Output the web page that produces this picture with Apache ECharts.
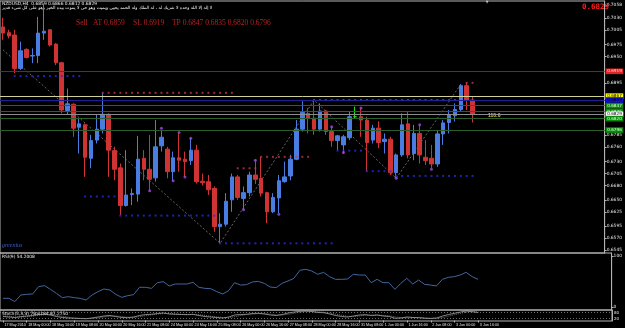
<!DOCTYPE html>
<html>
<head>
<meta charset="utf-8">
<style>
  html, body { margin: 0; padding: 0; background: #000; }
  #chart { width: 625px; height: 328px; }
</style>
<script src="https://cdn.jsdelivr.net/npm/echarts@6/dist/echarts.min.js"></script>
</head>
<body>
<div id="chart"></div>
<script>
// NZDUSD H4, 17 May 08:00 .. 3 Jun 16:00 (2010)
let opens = [
  0.7012, 0.7000, 0.6995, 0.6925, 0.6965, 0.6951, 0.6952, 0.6999, 0.7006, 0.6976,
  0.6937, 0.6837, 0.6850, 0.6802, 0.6807, 0.6737, 0.6775, 0.6798, 0.6829, 0.6753,
  0.6717, 0.6638, 0.6661, 0.6662, 0.6737, 0.6714, 0.6696, 0.6763, 0.6756, 0.6709,
  0.6738, 0.6735, 0.6732, 0.6754, 0.6689, 0.6688, 0.6674, 0.6594, 0.6599, 0.6650,
  0.6698, 0.6653, 0.6665, 0.6702, 0.6695, 0.6665, 0.6625, 0.6654, 0.6688, 0.6700,
  0.6735, 0.6798, 0.6831, 0.6821, 0.6798, 0.6836, 0.6793, 0.6774, 0.6765, 0.6780,
  0.6824, 0.6824, 0.6817, 0.6775, 0.6800, 0.6772, 0.6777, 0.6707, 0.6744, 0.6809,
  0.6747, 0.6789, 0.6739, 0.6737, 0.6725, 0.6788, 0.6812, 0.6826, 0.6839, 0.6889,
  0.6859
];
let highs = [
  0.7031, 0.7006, 0.7006, 0.6981, 0.6967, 0.6967, 0.7033, 0.7060, 0.7007, 0.6978,
  0.6939, 0.6883, 0.6852, 0.6821, 0.6810, 0.6786, 0.6828, 0.6873, 0.6831, 0.6761,
  0.6726, 0.6754, 0.6674, 0.6784, 0.6754, 0.6786, 0.6817, 0.6796, 0.6761, 0.6751,
  0.6789, 0.6751, 0.6779, 0.6765, 0.6705, 0.6702, 0.6678, 0.6622, 0.6664, 0.6705,
  0.6702, 0.6678, 0.6709, 0.6733, 0.6740, 0.6667, 0.6664, 0.6702, 0.6730, 0.6744,
  0.6817, 0.6856, 0.6842, 0.6859, 0.6852, 0.6838, 0.6803, 0.6786, 0.6786, 0.6835,
  0.6845, 0.6842, 0.6824, 0.6807, 0.6814, 0.6789, 0.6782, 0.6747, 0.6831, 0.6835,
  0.6807, 0.6807, 0.6775, 0.6765, 0.6796, 0.6817, 0.6838, 0.6852, 0.6892, 0.6895,
  0.6866
];
let lows = [
  0.6985, 0.6988, 0.6915, 0.6922, 0.6946, 0.6936, 0.6936, 0.6985, 0.6971, 0.6932,
  0.6831, 0.6828, 0.6782, 0.6747, 0.6698, 0.6716, 0.6768, 0.6789, 0.6698, 0.6691,
  0.6618, 0.6636, 0.6639, 0.6646, 0.6691, 0.6669, 0.6688, 0.6751, 0.6695, 0.6691,
  0.6709, 0.6698, 0.6723, 0.6684, 0.6680, 0.6660, 0.6583, 0.6559, 0.6594, 0.6625,
  0.6650, 0.6629, 0.6657, 0.6683, 0.6657, 0.6601, 0.6622, 0.6622, 0.6686, 0.6691,
  0.6733, 0.6793, 0.6789, 0.6786, 0.6793, 0.6786, 0.6761, 0.6754, 0.6747, 0.6775,
  0.6821, 0.6782, 0.6709, 0.6768, 0.6758, 0.6747, 0.6702, 0.6695, 0.6740, 0.6737,
  0.6733, 0.6726, 0.6723, 0.6716, 0.6719, 0.6765, 0.6789, 0.6814, 0.6835, 0.6838,
  0.6812
];
let closes = [
  0.6999, 0.6993, 0.6925, 0.6962, 0.6948, 0.6952, 0.6999, 0.7003, 0.6974, 0.6937,
  0.6838, 0.6851, 0.6800, 0.6809, 0.6739, 0.6774, 0.6798, 0.6829, 0.6754, 0.6714,
  0.6638, 0.6660, 0.6663, 0.6735, 0.6714, 0.6693, 0.6761, 0.6781, 0.6709, 0.6738,
  0.6733, 0.6730, 0.6754, 0.6688, 0.6686, 0.6671, 0.6594, 0.6599, 0.6647, 0.6698,
  0.6655, 0.6665, 0.6702, 0.6693, 0.6664, 0.6625, 0.6655, 0.6690, 0.6698, 0.6735,
  0.6798, 0.6833, 0.6821, 0.6798, 0.6836, 0.6793, 0.6774, 0.6784, 0.6782, 0.6824,
  0.6824, 0.6817, 0.6770, 0.6800, 0.6770, 0.6777, 0.6707, 0.6744, 0.6807, 0.6744,
  0.6789, 0.6744, 0.6732, 0.6725, 0.6788, 0.6811, 0.6828, 0.6839, 0.6889, 0.6859,
  0.6829
];

let rsi = [
  17.0, 17.0, 10.5, 23.5, 24.8, 25.5, 39.9, 41.9, 34.6, 26.8,
  18.3, 20.3, 18.3, 17.0, 13.7, 23.5, 30.1, 35.3, 33.3, 24.8,
  18.9, 22.2, 24.2, 38.6, 38.6, 36.6, 47.7, 49.7, 41.2, 45.1,
  45.1, 45.1, 48.4, 38.6, 36.6, 35.9, 30.1, 25.5, 32.0, 47.7,
  43.1, 43.8, 49.0, 50.3, 46.4, 39.2, 37.9, 46.4, 51.0, 56.2,
  72.0, 73.9, 70.6, 64.1, 68.0, 59.5, 54.2, 54.2, 54.9, 64.1,
  62.7, 62.7, 47.7, 54.2, 47.7, 47.7, 34.6, 46.4, 56.2, 45.1,
  52.9, 44.4, 43.1, 41.2, 54.2, 58.2, 59.5, 62.7, 68.0, 59.5,
  54.2008
];
let stochK = [
  40, 35, 30, 38, 45, 50, 60, 62, 55, 40,
  30, 25, 22, 20, 18, 25, 35, 45, 50, 40,
  30, 28, 35, 50, 60, 62, 70, 75, 65, 62,
  60, 58, 62, 50, 40, 35, 30, 25, 35, 55,
  60, 62, 70, 72, 65, 55, 50, 60, 75, 85,
  92, 95, 90, 80, 78, 65, 50, 40, 35, 45,
  55, 58, 50, 55, 45, 40, 22, 25, 35, 30,
  28, 22, 20, 25, 45, 60, 72, 85, 95, 88,
  78.6184
];
let stochD = [
  45, 42, 35, 34, 38, 44, 52, 57, 59, 52,
  42, 32, 26, 22, 20, 21, 26, 35, 43, 45,
  40, 33, 31, 38, 48, 57, 64, 69, 70, 67,
  62, 60, 60, 57, 51, 42, 35, 30, 30, 38,
  50, 59, 64, 68, 69, 64, 57, 55, 62, 73,
  84, 91, 92, 88, 83, 74, 64, 52, 42, 40,
  45, 53, 54, 54, 50, 47, 36, 29, 27, 30,
  31, 27, 23, 22, 30, 43, 59, 72, 84, 89,
  87.2750
];

// one label every 4 bars, starting with bar 0
let timeLabels = [
  '17 May 2010', '18 May 00:00', '18 May 16:00', '19 May 08:00', '20 May 00:00',
  '20 May 16:00', '21 May 08:00', '24 May 00:00', '24 May 16:00', '25 May 08:00',
  '26 May 00:00', '26 May 16:00', '27 May 08:00', '28 May 00:00', '28 May 16:00',
  '31 May 08:00', '1 Jun 00:00', '1 Jun 16:00', '2 Jun 08:00', '3 Jun 00:00',
  '3 Jun 16:00'
];
let priceTicks = [0.7058, 0.7030, 0.7005, 0.6975, 0.6950, 0.6895, 0.6785, 0.6760, 0.6730,
  0.6705, 0.6680, 0.6650, 0.6625, 0.6595, 0.6570, 0.6545];

// trade levels: SL, entry zone, AT, TP1, TP2, bid, TP3, TP4
let levelPrices = [0.6919, 0.6867, 0.6859, 0.6847, 0.6835, 0.6829, 0.6820, 0.6796];
let levelLine = ['#8e1a1a', '#cfcf96', '#1f1f96', '#2c5e2c', '#2c5e2c', '#8c8c8c', '#2c5e2c', '#2c5e2c'];
let levelBox = ['#e02424', '#ffff00', '#1010d0', '#0a8a0a', '#0a8a0a', '#ffffff', '#0a8a0a', '#0a8a0a'];
let levelText = ['#ffd0d0', '#000000', '#000000', '#e0ffe0', '#e0ffe0', '#000000', '#e0ffe0', '#e0ffe0'];

// dotted support / resistance rows: [first bar, last bar, price]
let blueRows = [[2, 13, 0.6909], [14, 19, 0.6657], [20, 36, 0.6617], [37, 56, 0.6559],
  [57, 61, 0.6753], [62, 66, 0.6710], [67, 80, 0.6700]];
let redRows = [[17, 39, 0.6874], [40, 43, 0.6716], [44, 52, 0.6740], [53, 77, 0.6859], [79, 80, 0.6895]];
let fractals = [[25, 0.6669], [27, 0.6800], [29, 0.6690], [30, 0.6791], [31, 0.6698], [32, 0.6779],
  [41, 0.6629], [43, 0.6733], [47, 0.6620], [56, 0.6803], [58, 0.6749], [61, 0.6842],
  [67, 0.6695], [71, 0.6807], [73, 0.6714]];
let zigzag = [[0, 0.6964], [37, 0.6559], [53, 0.6859], [67, 0.6695], [78, 0.6892]];

let nSlots = 103; // 81 bars + empty space on the right (chart shift)
let cats = [];
for (let i = 0; i < nSlots; i++) cats.push(String(i));

let candles = [];
for (let i = 0; i < opens.length; i++) {
  candles.push([opens[i], closes[i], lows[i], highs[i]]);
}
function expandRows(rows) {
  let pts = [];
  rows.forEach(function (r) {
    for (let i = r[0]; i <= r[1]; i++) pts.push([i, r[2]]);
  });
  return pts;
}
let last = opens.length - 1;
let f4 = function (v) { return v.toFixed(4); };
let showTime = function (i) { return i % 4 === 0 && i <= last; };

let small = '"DejaVu Sans", sans-serif';
let axisCol = '#b4b4b4';

let chart = echarts.init(document.getElementById('chart'));
let option = {
  animation: false,
  backgroundColor: '#000000',
  grid: [
    { left: -2, right: 13, top: 1, height: 252, show: true, borderColor: axisCol, borderWidth: 1 },
    { left: -2, right: 13, top: 253, height: 57, show: true, borderColor: axisCol, borderWidth: 1 },
    { left: -2, right: 13, top: 310, height: 11, show: true, borderColor: axisCol, borderWidth: 1 }
  ],
  xAxis: [
    { type: 'category', gridIndex: 0, data: cats, show: false },
    { type: 'category', gridIndex: 1, data: cats, show: false },
    {
      type: 'category',
      gridIndex: 2,
      data: cats,
      axisLine: { show: false },
      axisTick: { show: true, alignWithLabel: true, interval: showTime, length: 2, lineStyle: { color: axisCol } },
      axisLabel: {
        interval: showTime,
        showMinLabel: true,
        formatter: function (v, i) { return timeLabels[i / 4]; },
        align: 'left',
        color: '#e6e6e6',
        fontSize: 3.7,
        fontFamily: '"Liberation Sans", sans-serif',
        margin: 1.5,
        padding: [0, 0, 0, 1.5]
      }
    }
  ],
  yAxis: [
    {
      type: 'value', gridIndex: 0, position: 'right', min: 0.65387, max: 0.70662,
      splitLine: { show: false },
      axisLine: { show: true, lineStyle: { color: axisCol } },
      axisTick: { show: true, customValues: priceTicks, length: 2, lineStyle: { color: axisCol } },
      axisLabel: { customValues: priceTicks, formatter: f4, color: '#e6e6e6', fontSize: 4.4, fontFamily: small, margin: 2 }
    },
    {
      type: 'value', gridIndex: 1, position: 'right', min: -5.9, max: 105.9,
      splitLine: { show: false },
      axisLine: { show: true, lineStyle: { color: axisCol } },
      axisTick: { show: true, customValues: [0, 100], length: 2, lineStyle: { color: axisCol } },
      axisLabel: { customValues: [0, 100], color: '#e6e6e6', fontSize: 4.4, fontFamily: small, margin: 2 }
    },
    {
      type: 'value', gridIndex: 2, position: 'right', min: -5, max: 105,
      splitLine: { show: false },
      axisLine: { show: true, lineStyle: { color: axisCol } },
      axisTick: { show: false },
      axisLabel: { customValues: [20, 80], color: '#e6e6e6', fontSize: 4, fontFamily: small, margin: 2 }
    }
  ],
  series: [
    {
      name: 'zigzag',
      type: 'line',
      data: zigzag,
      showSymbol: false,
      z: 2,
      itemStyle: { color: '#808080' },
      lineStyle: { color: '#808080', width: 0.8, type: [2, 2] }
    },
    {
      name: 'NZDUSD',
      type: 'candlestick',
      data: candles,
      barWidth: 4,
      z: 3,
      itemStyle: {
        color: '#4a7de2', color0: '#cf3333',
        borderColor: '#4a7de2', borderColor0: '#cf3333',
        borderColorDoji: '#20e020', borderWidth: 1
      },
      markLine: {
        silent: true,
        symbol: ['none', 'none'],
        animation: false,
        precision: 4,
        data: levelPrices.map(function (p, i) {
          return {
            name: 'L' + i,
            yAxis: p,
            lineStyle: { color: levelLine[i], type: 'solid', width: 1 },
            label: {
              show: true, position: 'end', distance: 1,
              formatter: f4(p),
              backgroundColor: levelBox[i], color: levelText[i],
              fontSize: 4.2, fontFamily: small, padding: [0.5, 1.5], lineHeight: 4.6
            }
          };
        })
      }
    },
    {
      name: 'support dots',
      type: 'scatter',
      data: expandRows(blueRows),
      symbol: 'rect', symbolSize: 2, z: 4,
      itemStyle: { color: '#2b2bde' }
    },
    {
      name: 'resistance dots',
      type: 'scatter',
      data: expandRows(redRows),
      symbol: 'rect', symbolSize: 2, z: 4,
      itemStyle: { color: '#c8324e' }
    },
    {
      name: 'fractals',
      type: 'scatter',
      data: fractals,
      symbol: 'circle', symbolSize: 3, z: 4,
      itemStyle: { color: '#a446e6' }
    },
    {
      name: 'RSI',
      type: 'line',
      xAxisIndex: 1, yAxisIndex: 1,
      data: rsi,
      showSymbol: false,
      lineStyle: { color: '#4066a0', width: 1 }
    },
    {
      name: 'Stoch main',
      type: 'line',
      xAxisIndex: 2, yAxisIndex: 2,
      data: stochK,
      showSymbol: false,
      lineStyle: { color: '#bdbdbd', width: 0.7 },
      markLine: {
        silent: true, symbol: ['none', 'none'], label: { show: false },
        lineStyle: { color: '#8a8a8a', type: [1, 2], width: 0.8 },
        data: [{ yAxis: 20 }, { yAxis: 80 }]
      }
    },
    {
      name: 'Stoch signal',
      type: 'line',
      xAxisIndex: 2, yAxisIndex: 2,
      data: stochD,
      showSymbol: false,
      lineStyle: { color: '#9a9a9a', width: 0.7, type: [1, 1] }
    }
  ],
  graphic: [
    {
      type: 'text', x: 2, y: 1.5,
      style: {
        text: 'NZDUSD,H4  ' + [opens[last], highs[last], lows[last], closes[last]].map(f4).join(' '),
        fill: '#f0f0f0', font: '4.4px ' + small, verticalAlign: 'top'
      }
    },
    {
      type: 'text', x: 2, y: 5.5,
      style: {
        text: 'لا إله إلا الله وحده لا شريك له ، له الملك وله الحمد يحيي ويميت وهو حي لا يموت بيده الخير وهو على كل شيء قدير',
        fill: '#f0f0f0', font: '4.4px "DejaVu Sans"', verticalAlign: 'top'
      }
    },
    { type: 'text', x: 76, y: 19.5, style: { text: 'Sell', fill: '#b82222', font: '7.5px "Liberation Serif"', verticalAlign: 'top' } },
    { type: 'text', x: 93, y: 19.5, style: { text: 'AT ' + f4(levelPrices[2]), fill: '#b82222', font: '7.5px "Liberation Serif"', verticalAlign: 'top' } },
    { type: 'text', x: 133, y: 19.5, style: { text: 'SL ' + f4(levelPrices[0]), fill: '#b82222', font: '7.5px "Liberation Serif"', verticalAlign: 'top' } },
    {
      type: 'text', x: 172, y: 19.5,
      style: {
        text: 'TP ' + [levelPrices[3], levelPrices[4], levelPrices[6], levelPrices[7]].map(f4).join(' '),
        fill: '#b82222', font: '7.5px "Liberation Serif"', verticalAlign: 'top'
      }
    },
    {
      type: 'text', x: 609, y: 3, z: 100,
      style: { text: f4(closes[last]), fill: '#ff2020', font: 'bold 7.5px "DejaVu Sans Mono", monospace', align: 'right', verticalAlign: 'top' }
    },
    { type: 'text', x: 487, y: 0, style: { text: '▼', fill: '#c8c8c8', font: '3.5px ' + small, align: 'center', verticalAlign: 'top' } },
    { type: 'text', x: 488, y: 113.5, style: { text: '110:6', fill: '#e8cc48', font: 'bold 5px "Liberation Sans"', verticalAlign: 'top' } },
    { type: 'text', x: 2, y: 242, style: { text: 'greenius', fill: '#3d5ccc', font: 'italic 6px "Liberation Serif"', verticalAlign: 'top' } },
    {
      type: 'text', x: 2, y: 255,
      style: { text: 'RSI(9) ' + f4(rsi[last]), fill: '#f0f0f0', font: '4.4px ' + small, verticalAlign: 'top' }
    },
    {
      type: 'text', x: 2, y: 312,
      style: { text: 'Stoch(5,3,3) ' + f4(stochK[last]) + ' ' + f4(stochD[last]), fill: '#f0f0f0', font: '4.4px ' + small, verticalAlign: 'top' }
    }
  ]
};
chart.setOption(option);
</script>
</body>
</html>
